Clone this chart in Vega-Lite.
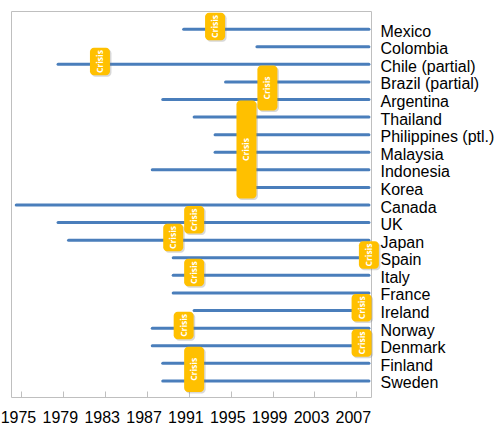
{
  "$schema": "https://vega.github.io/schema/vega-lite/v6.json",
  "width": 360,
  "height": 386,
  "padding": {"left": 0, "top": 11, "right": 0, "bottom": 0},
  "background": "white",
  "config": {
    "view": {"stroke": "#bfbfbf", "strokeWidth": 1},
    "font": "Liberation Sans"
  },
  "datasets": {
    "spans": [
      {"country": "Mexico", "start": 1991, "end": 2008.7},
      {"country": "Colombia", "start": 1998, "end": 2008.7},
      {"country": "Chile (partial)", "start": 1979, "end": 2008.7},
      {"country": "Brazil (partial)", "start": 1995, "end": 2008.7},
      {"country": "Argentina", "start": 1989, "end": 2008.7},
      {"country": "Thailand", "start": 1992, "end": 2008.7},
      {"country": "Philippines (ptl.)", "start": 1994, "end": 2008.7},
      {"country": "Malaysia", "start": 1994, "end": 2008.7},
      {"country": "Indonesia", "start": 1988, "end": 2008.7},
      {"country": "Korea", "start": 1997, "end": 2008.7},
      {"country": "Canada", "start": 1975, "end": 2008.7},
      {"country": "UK", "start": 1979, "end": 2008.7},
      {"country": "Japan", "start": 1980, "end": 2008.7},
      {"country": "Spain", "start": 1990, "end": 2008.7},
      {"country": "Italy", "start": 1990, "end": 2008.7},
      {"country": "France", "start": 1990, "end": 2008.7},
      {"country": "Ireland", "start": 1992, "end": 2008.7},
      {"country": "Norway", "start": 1988, "end": 2008.7},
      {"country": "Denmark", "start": 1988, "end": 2008.7},
      {"country": "Finland", "start": 1989, "end": 2008.7},
      {"country": "Sweden", "start": 1989, "end": 2008.7}
    ],
    "crises": [
      {"label": "Crisis", "year": 1994, "from": "Mexico", "to": "Mexico", "textRow": "Mexico", "between": false},
      {"label": "Crisis", "year": 1983, "from": "Chile (partial)", "to": "Chile (partial)", "textRow": "Chile (partial)", "between": false},
      {"label": "Crisis", "year": 1999, "from": "Brazil (partial)", "to": "Argentina", "textRow": "Brazil (partial)", "between": true},
      {"label": "Crisis", "year": 1997, "from": "Thailand", "to": "Korea", "textRow": "Malaysia", "between": false},
      {"label": "Crisis", "year": 1992, "from": "UK", "to": "UK", "textRow": "UK", "between": false},
      {"label": "Crisis", "year": 1990, "from": "Japan", "to": "Japan", "textRow": "Japan", "between": false},
      {"label": "Crisis", "year": 2008.7, "from": "Spain", "to": "Spain", "textRow": "Spain", "between": false},
      {"label": "Crisis", "year": 1992, "from": "Italy", "to": "Italy", "textRow": "Italy", "between": false},
      {"label": "Crisis", "year": 2008, "from": "Ireland", "to": "Ireland", "textRow": "Ireland", "between": false},
      {"label": "Crisis", "year": 1991, "from": "Norway", "to": "Norway", "textRow": "Norway", "between": false},
      {"label": "Crisis", "year": 2008, "from": "Denmark", "to": "Denmark", "textRow": "Denmark", "between": false},
      {"label": "Crisis", "year": 1992, "from": "Finland", "to": "Sweden", "textRow": "Finland", "between": true}
    ]
  },
  "layer": [
    {
      "data": {"name": "spans"},
      "mark": {"type": "rule", "strokeWidth": 3, "strokeCap": "round", "color": "#4a7ebb"},
      "encoding": {
        "x": {
          "field": "start",
          "type": "quantitative",
          "scale": {"domain": [1974.5, 2008.9], "nice": false, "zero": false},
          "axis": {
            "title": null,
            "grid": false,
            "domain": false,
            "values": [1975.5, 1976.5, 1977.5, 1978.5, 1979.5, 1980.5, 1981.5, 1982.5, 1983.5, 1984.5, 1985.5, 1986.5, 1987.5, 1988.5, 1989.5, 1990.5, 1991.5, 1992.5, 1993.5, 1994.5, 1995.5, 1996.5, 1997.5, 1998.5, 1999.5, 2000.5, 2001.5, 2002.5, 2003.5, 2004.5, 2005.5, 2006.5, 2007.5, 2008.5],
            "labelExpr": "(floor(datum.value) - 1975) % 4 == 0 ? floor(datum.value) + '' : ''",
            "tickSize": -6,
            "tickColor": "#bfbfbf",
            "tickWidth": 1,
            "labelOffset": -3.5,
            "labelPadding": 18,
            "labelFontSize": 16,
            "labelColor": "#000000",
            "labelOverlap": false,
            "labelFlush": false
          }
        },
        "x2": {"field": "end"},
        "y": {
          "field": "country",
          "type": "nominal",
          "scale": {
            "type": "point",
            "padding": 0.975,
            "align": 0.53,
            "domain": ["Mexico", "Colombia", "Chile (partial)", "Brazil (partial)", "Argentina", "Thailand", "Philippines (ptl.)", "Malaysia", "Indonesia", "Korea", "Canada", "UK", "Japan", "Spain", "Italy", "France", "Ireland", "Norway", "Denmark", "Finland", "Sweden"]
          },
          "axis": {
            "orient": "right",
            "title": null,
            "ticks": false,
            "domain": false,
            "grid": false,
            "labelPadding": 9,
            "labelFontSize": 16,
            "labelColor": "#000000",
            "labelBaseline": "middle",
            "labelOffset": 2,
            "labelExpr": "datum.value == 'Spain' ? '\u00a0Spain' : datum.label"
          }
        }
      }
    },
    {
      "data": {"name": "crises"},
      "mark": {"type": "rect", "fill": "#7f7f7f", "opacity": 0.3, "cornerRadius": 4, "xOffset": -8.5, "x2Offset": 11.5, "yOffset": -15, "y2Offset": 12.5},
      "encoding": {
        "x": {"field": "year", "type": "quantitative", "scale": {"domain": [1974.5, 2008.9], "nice": false, "zero": false}},
        "x2": {"field": "year"},
        "y": {"field": "from", "type": "nominal"},
        "y2": {"field": "to"}
      }
    },
    {
      "data": {"name": "crises"},
      "mark": {"type": "rect", "fill": "#ffc000", "cornerRadius": 4, "xOffset": -10, "x2Offset": 10, "yOffset": -16.5, "y2Offset": 11},
      "encoding": {
        "x": {"field": "year", "type": "quantitative", "scale": {"domain": [1974.5, 2008.9], "nice": false, "zero": false}},
        "x2": {"field": "year"},
        "y": {"field": "from", "type": "nominal"},
        "y2": {"field": "to"}
      }
    },
    {
      "data": {"name": "crises"},
      "transform": [{"filter": "!datum.between"}],
      "mark": {"type": "text", "angle": 270, "align": "center", "baseline": "middle", "font": "Open Sans", "fontWeight": "bold", "fontSize": 8.5, "color": "#ffffff", "yOffset": -2.75},
      "encoding": {
        "x": {"field": "year", "type": "quantitative", "scale": {"domain": [1974.5, 2008.9], "nice": false, "zero": false}},
        "y": {"field": "textRow", "type": "nominal"},
        "text": {"field": "label"}
      }
    },
    {
      "data": {"name": "crises"},
      "transform": [{"filter": "datum.between"}],
      "mark": {"type": "text", "angle": 270, "align": "center", "baseline": "middle", "font": "Open Sans", "fontWeight": "bold", "fontSize": 8.5, "color": "#ffffff", "yOffset": 6.05},
      "encoding": {
        "x": {"field": "year", "type": "quantitative", "scale": {"domain": [1974.5, 2008.9], "nice": false, "zero": false}},
        "y": {"field": "textRow", "type": "nominal"},
        "text": {"field": "label"}
      }
    }
  ]
}
